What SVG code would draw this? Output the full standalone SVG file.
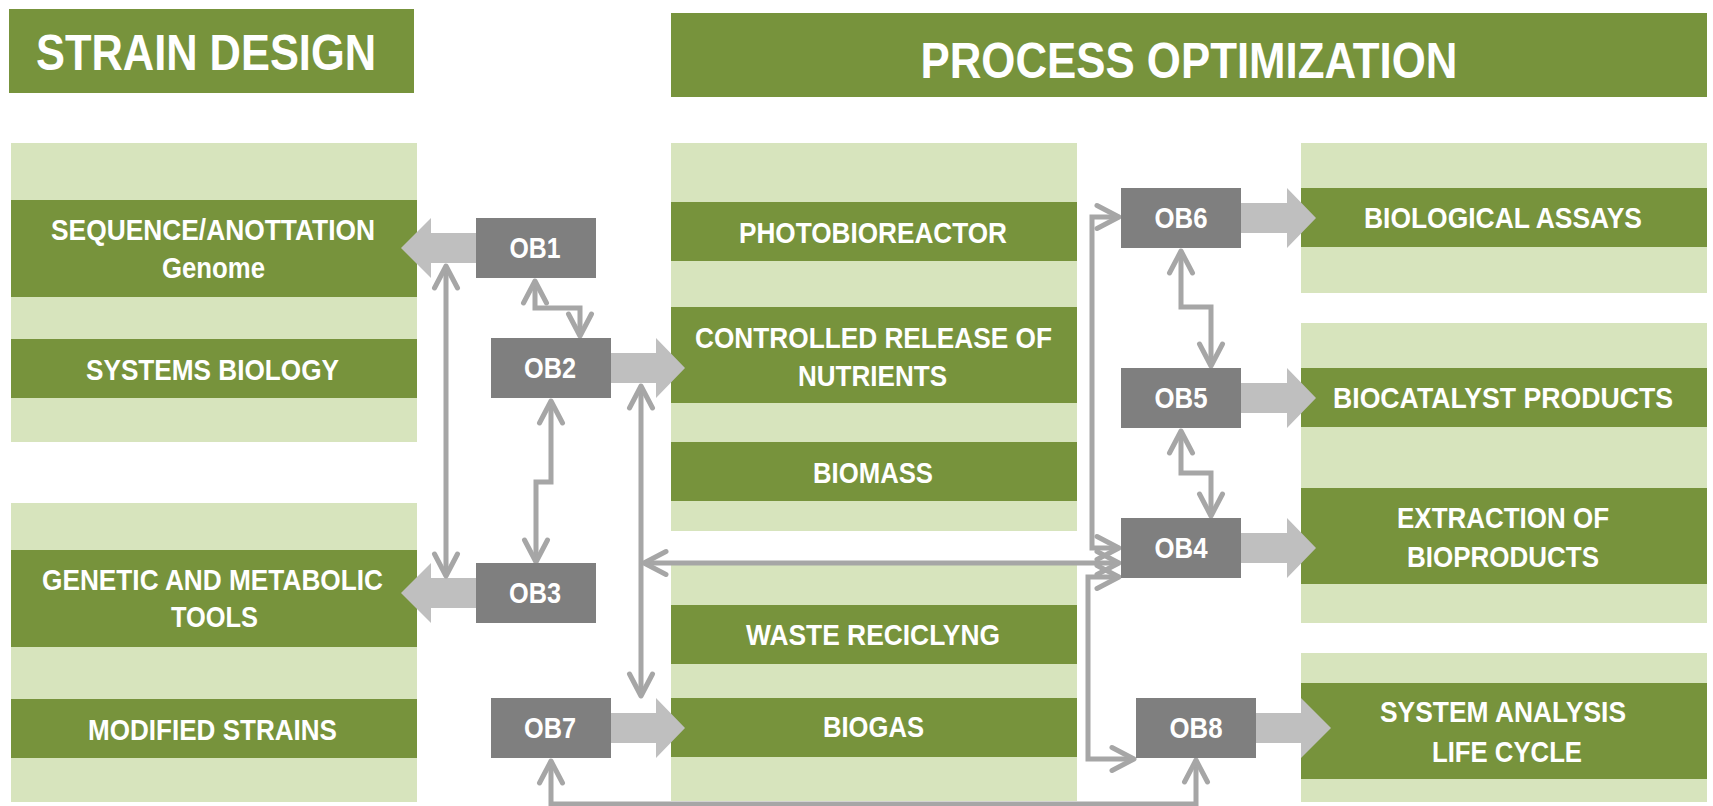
<svg xmlns="http://www.w3.org/2000/svg" width="1713" height="806" viewBox="0 0 1713 806">
<style>
.lt{fill:#d7e4bd}
.dk{fill:#77933c}
.ob{fill:#7f7f7f}
.ba{fill:#bfbfbf}
.t{font-family:"Liberation Sans",Arial,sans-serif;font-weight:bold;fill:#ffffff;text-anchor:middle;font-size:30px}
.h{font-size:50px}
.c{fill:none;stroke:#a6a6a6;stroke-width:5;stroke-linejoin:miter;marker-start:url(#ah);marker-end:url(#ah)}
</style>
<defs>
<marker id="ah" markerUnits="userSpaceOnUse" orient="auto-start-reverse" refX="0" refY="0" markerWidth="40" markerHeight="40" viewBox="-30 -20 40 40" overflow="visible">
<path d="M-22,-11.5 L0,0 L-22,11.5" fill="none" stroke="#a6a6a6" stroke-width="5" stroke-linecap="round" stroke-linejoin="round"/>
</marker>
</defs>
<rect width="1713" height="806" fill="#ffffff"/>

<g id="header-strain">
<rect class="dk" x="9" y="9" width="405" height="84"/>
<text class="t h" x="206" y="70" textLength="340" lengthAdjust="spacingAndGlyphs">STRAIN DESIGN</text>
</g>
<g id="header-process">
<rect class="dk" x="671" y="13" width="1036" height="84"/>
<text class="t h" x="1189" y="78" textLength="537" lengthAdjust="spacingAndGlyphs">PROCESS OPTIMIZATION</text>
</g>

<g id="strain-top">
<rect class="lt" x="11" y="143" width="406" height="299"/>
<g id="sequence">
<rect class="dk" x="11" y="200" width="406" height="97"/>
<text class="t" x="213" y="240" textLength="324" lengthAdjust="spacingAndGlyphs">SEQUENCE/ANOTTATION</text>
<text class="t" x="213.5" y="278" textLength="103" lengthAdjust="spacingAndGlyphs">Genome</text>
</g>
<g id="systems-biology">
<rect class="dk" x="11" y="339" width="406" height="59"/>
<text class="t" x="212.5" y="380" textLength="253" lengthAdjust="spacingAndGlyphs">SYSTEMS BIOLOGY</text>
</g>
</g>

<g id="strain-bottom">
<rect class="lt" x="11" y="503" width="406" height="299"/>
<g id="genetic-tools">
<rect class="dk" x="11" y="550" width="406" height="97"/>
<text class="t" x="212.5" y="590" textLength="341" lengthAdjust="spacingAndGlyphs">GENETIC AND METABOLIC</text>
<text class="t" x="214.5" y="627" textLength="87" lengthAdjust="spacingAndGlyphs">TOOLS</text>
</g>
<g id="modified-strains">
<rect class="dk" x="11" y="699" width="406" height="59"/>
<text class="t" x="212.5" y="740" textLength="249" lengthAdjust="spacingAndGlyphs">MODIFIED STRAINS</text>
</g>
</g>

<g id="process-top">
<rect class="lt" x="671" y="143" width="406" height="388"/>
<g id="photobioreactor">
<rect class="dk" x="671" y="202" width="406" height="59"/>
<text class="t" x="873" y="243" textLength="268" lengthAdjust="spacingAndGlyphs">PHOTOBIOREACTOR</text>
</g>
<g id="controlled-release">
<rect class="dk" x="671" y="307" width="406" height="96"/>
<text class="t" x="873.5" y="348" textLength="357" lengthAdjust="spacingAndGlyphs">CONTROLLED RELEASE OF</text>
<text class="t" x="872.5" y="386" textLength="149" lengthAdjust="spacingAndGlyphs">NUTRIENTS</text>
</g>
<g id="biomass">
<rect class="dk" x="671" y="442" width="406" height="59"/>
<text class="t" x="873" y="483" textLength="120" lengthAdjust="spacingAndGlyphs">BIOMASS</text>
</g>
</g>

<g id="process-bottom">
<rect class="lt" x="671" y="565" width="406" height="236"/>
<g id="waste">
<rect class="dk" x="671" y="605" width="406" height="59"/>
<text class="t" x="873" y="645" textLength="254" lengthAdjust="spacingAndGlyphs">WASTE RECICLYNG</text>
</g>
<g id="biogas">
<rect class="dk" x="671" y="698" width="406" height="59"/>
<text class="t" x="873.5" y="737" textLength="101" lengthAdjust="spacingAndGlyphs">BIOGAS</text>
</g>
</g>

<g id="right-1">
<rect class="lt" x="1301" y="143" width="406" height="150"/>
<g id="biological-assays">
<rect class="dk" x="1301" y="188" width="406" height="59"/>
<text class="t" x="1503" y="228" textLength="278" lengthAdjust="spacingAndGlyphs">BIOLOGICAL ASSAYS</text>
</g>
</g>
<g id="right-2">
<rect class="lt" x="1301" y="323" width="406" height="300"/>
<g id="biocatalyst">
<rect class="dk" x="1301" y="368" width="406" height="59"/>
<text class="t" x="1503" y="408" textLength="340" lengthAdjust="spacingAndGlyphs">BIOCATALYST PRODUCTS</text>
</g>
<g id="extraction">
<rect class="dk" x="1301" y="488" width="406" height="96"/>
<text class="t" x="1503" y="528" textLength="212" lengthAdjust="spacingAndGlyphs">EXTRACTION OF</text>
<text class="t" x="1503" y="567" textLength="192" lengthAdjust="spacingAndGlyphs">BIOPRODUCTS</text>
</g>
</g>
<g id="right-3">
<rect class="lt" x="1301" y="653" width="406" height="149"/>
<g id="system-analysis">
<rect class="dk" x="1301" y="683" width="406" height="96"/>
<text class="t" x="1503" y="722" textLength="246" lengthAdjust="spacingAndGlyphs">SYSTEM ANALYSIS</text>
<text class="t" x="1507" y="762" textLength="150" lengthAdjust="spacingAndGlyphs">LIFE CYCLE</text>
</g>
</g>

<g id="block-arrows">
<polygon class="ba" points="476,233 431,233 431,218 401,248 431,278 431,263 476,263"/>
<polygon class="ba" points="476,578 431,578 431,563 401,593 431,623 431,608 476,608"/>
<polygon class="ba" points="611,353 656,353 656,338 685,368 656,398 656,383 611,383"/>
<polygon class="ba" points="611,713 656,713 656,698 685,728 656,758 656,743 611,743"/>
<polygon class="ba" points="1241,203 1287,203 1287,188 1316,218 1287,248 1287,233 1241,233"/>
<polygon class="ba" points="1241,383 1287,383 1287,368 1316,398 1287,428 1287,413 1241,413"/>
<polygon class="ba" points="1241,533 1287,533 1287,518 1316,548 1287,578 1287,563 1241,563"/>
<polygon class="ba" points="1256,713 1301,713 1301,698 1331,728 1301,758 1301,743 1256,743"/>
</g>

<g id="connectors">
<path class="c" d="M535,281 V308 H580 V336"/>
<path class="c" d="M446,266 V576"/>
<path class="c" d="M551,401 V482 H536 V562"/>
<path class="c" d="M641,386 V696"/>
<path class="c" d="M644,563 H1119"/>
<path class="c" d="M1119,217 H1092 V548 H1119"/>
<path class="c" d="M1119,577 H1088 V759 H1134"/>
<path class="c" d="M1181,251 V307 H1211 V366"/>
<path class="c" d="M1181,431 V473 H1211 V516"/>
<path class="c" d="M551,761 V804 H1196 V760"/>
</g>

<g id="OB1"><rect class="ob" x="476" y="218" width="120" height="60"/><text class="t" x="535" y="258" textLength="51" lengthAdjust="spacingAndGlyphs">OB1</text></g>
<g id="OB2"><rect class="ob" x="491" y="338" width="120" height="60"/><text class="t" x="550" y="378" textLength="52" lengthAdjust="spacingAndGlyphs">OB2</text></g>
<g id="OB3"><rect class="ob" x="476" y="563" width="120" height="60"/><text class="t" x="535" y="603" textLength="52" lengthAdjust="spacingAndGlyphs">OB3</text></g>
<g id="OB7"><rect class="ob" x="491" y="698" width="120" height="60"/><text class="t" x="550" y="738" textLength="52" lengthAdjust="spacingAndGlyphs">OB7</text></g>
<g id="OB6"><rect class="ob" x="1121" y="188" width="120" height="60"/><text class="t" x="1181" y="228" textLength="53" lengthAdjust="spacingAndGlyphs">OB6</text></g>
<g id="OB5"><rect class="ob" x="1121" y="368" width="120" height="60"/><text class="t" x="1181" y="408" textLength="53" lengthAdjust="spacingAndGlyphs">OB5</text></g>
<g id="OB4"><rect class="ob" x="1121" y="518" width="120" height="60"/><text class="t" x="1181" y="558" textLength="53" lengthAdjust="spacingAndGlyphs">OB4</text></g>
<g id="OB8"><rect class="ob" x="1136" y="698" width="120" height="60"/><text class="t" x="1196" y="738" textLength="53" lengthAdjust="spacingAndGlyphs">OB8</text></g>
</svg>
